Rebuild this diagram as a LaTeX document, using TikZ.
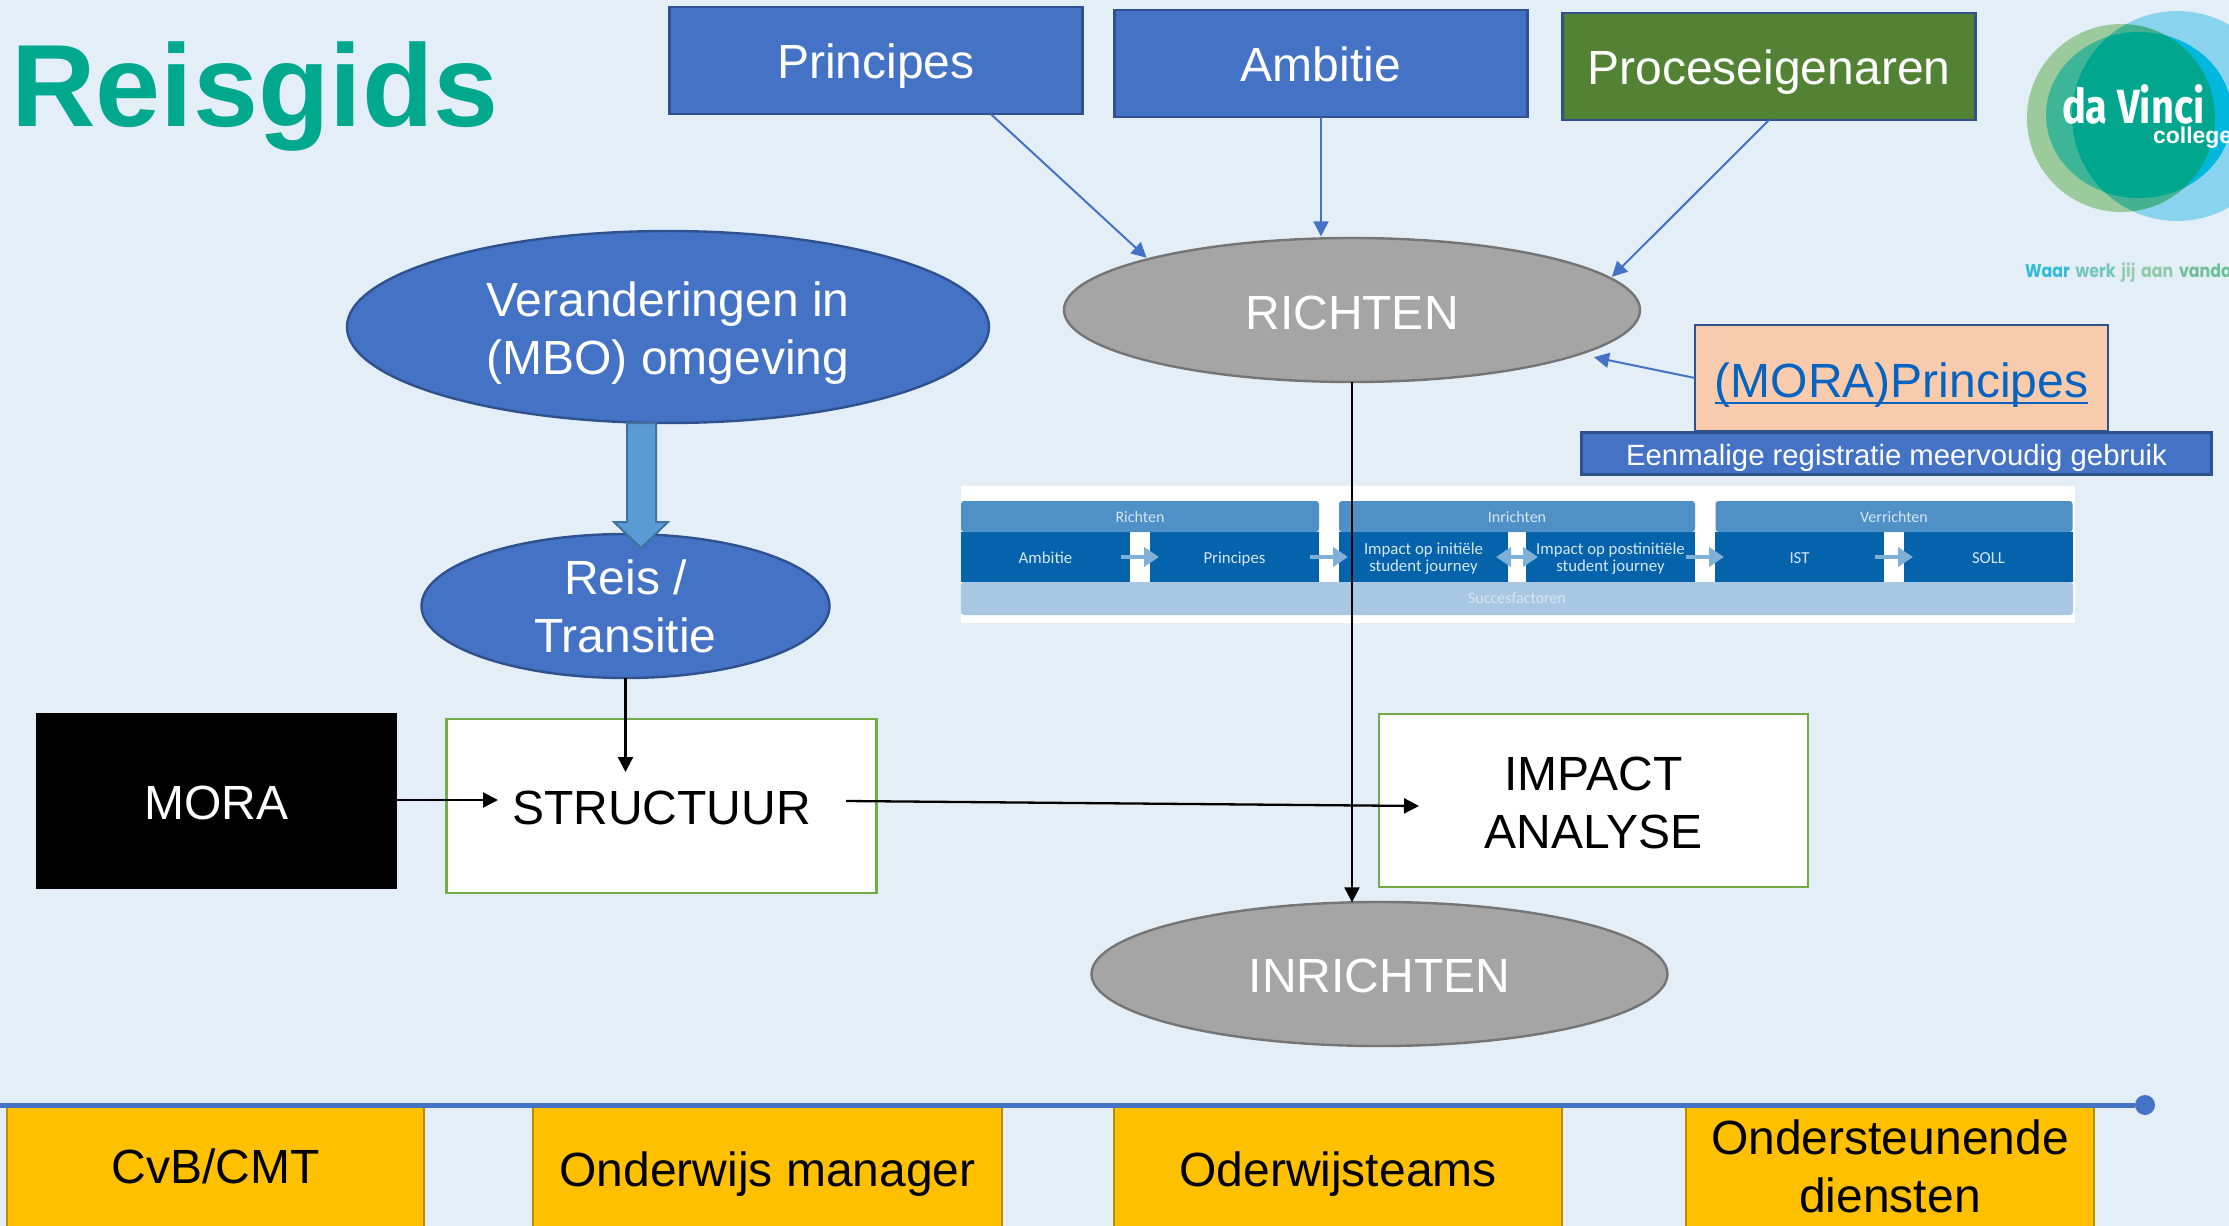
\documentclass[tikz,border=0pt]{standalone}
\usepackage{fontspec}
\setmainfont{Liberation Sans}
\newfontfamily\stripfont{Carlito}
\newfontfamily\logofont[FakeStretch=0.83]{Fira Sans}
\newfontfamily\slogan[FakeStretch=0.86]{Poppins}
\usetikzlibrary{arrows.meta}
\usetikzlibrary{calc}
\usetikzlibrary{positioning}
\usetikzlibrary{shapes.geometric}

\definecolor{achtergrond}{HTML}{E4EEF7}
\definecolor{blauw}{HTML}{4472C4}
\definecolor{blauwrand}{HTML}{2F528F}
\definecolor{grijs}{HTML}{A5A5A5}
\definecolor{grijsrand}{HTML}{757575}
\definecolor{geel}{HTML}{FFC000}
\definecolor{geelrand}{HTML}{BC8C00}
\definecolor{groen}{HTML}{548235}
\definecolor{kaderrand}{HTML}{70AD47}
\definecolor{titel}{HTML}{00A88E}
\definecolor{perzik}{HTML}{F8CBAD}
\definecolor{linkblauw}{HTML}{0563C1}
\definecolor{stripdonker}{HTML}{0563AC}
\definecolor{stripmidden}{HTML}{4F90C6}
\definecolor{striplicht}{HTML}{A7C7E3}
\definecolor{striptekst}{HTML}{D6E6F3}
\definecolor{strippijl}{HTML}{7FB0D8}

\newcommand{\onderstreept}[1]{\vtop{\hbox{\raisebox{0pt}[\height][0pt]{#1}}\kern2.3pt\hrule height 1.4pt}}

\begin{document}
\begin{tikzpicture}[x=0.5pt, y=-0.5pt, >={Triangle[length=7.5pt, width=7.5pt]},
        every node/.style={inner sep=0pt, outer sep=0pt, align=center},
        tekst/.style={font=\fontsize{24}{29}\selectfont},
        regel/.style={text height=18.2pt, text depth=0pt},
        blok/.style={tekst, regel, draw=blauwrand, line width=1.2pt, fill=blauw, text=white, minimum width=206.5pt, minimum height=53.5pt},
        ovaal/.style={tekst, ellipse, draw=blauwrand, line width=1.2pt, fill=blauw, text=white},
        fase/.style={tekst, regel, ellipse, draw=grijsrand, line width=1.2pt, fill=grijs, text=white, minimum width=288pt, minimum height=72pt},
        kader/.style={tekst, draw=kaderrand, line width=1.1pt, fill=white, text=black},
        rol/.style={tekst, draw=geelrand, line width=1.1pt, fill=geel, text=black, minimum height=62pt},
        cel/.style={font=\stripfont\fontsize{8.4}{8.7}\selectfont, fill=stripdonker, text=striptekst, minimum width=84.5pt, minimum height=25pt},
        celregel/.style={cel, text height=6.8pt, text depth=0pt},
        kop/.style={font=\stripfont\fontsize{8}{9}\selectfont, fill=stripmidden, text=striptekst, rounded corners=1.5pt, minimum height=15.5pt},
        stap/.style={draw=strippijl, line width=2pt, -{Triangle[length=7.5pt, width=9.5pt]}, shorten <=-4.5pt, shorten >=-4.5pt},
        bluearrow/.style={->, draw=blauw, line width=1pt, shorten >=1pt},
        blackarrow/.style={->, draw=black, line width=1.15pt}]
        \useasboundingbox (0,0) rectangle (2229,1226);
        \fill[achtergrond] (0,0) rectangle (2229,1226);

        \node[anchor=base west, text=titel, font=\bfseries\fontsize{58.5}{60}\selectfont] (titel) at (11,126) {Reisgids};

        \node[blok] (principes) at (876,60.5) {Principes};
        \node[blok, right=16pt of principes, yshift=-1.5pt] (ambitie) {Ambitie};
        \node[blok, fill=groen, right=17.5pt of ambitie, yshift=-1.5pt] (proces) {Proceseigenaren};

        \node[fase, text height=19.5pt, below=60.5pt of ambitie, xshift=15.5pt] (richten) {RICHTEN};
        \node[fase, below=260pt of richten, xshift=13.75pt] (inrichten) {INRICHTEN};
        \node[ovaal, minimum width=321pt, minimum height=96pt, left=37.5pt of richten, yshift=-8.5pt] (veranderingen) {\rule{0pt}{23.5pt}Veranderingen in\\(MBO) omgeving};
        \node[ovaal, minimum width=204pt, minimum height=72pt, below=55.5pt of veranderingen, xshift=-21.25pt] (reis) {Reis /\\Transitie};

        \node[kader, regel, minimum width=215pt, minimum height=87pt, below=20.5pt of reis, xshift=18pt] (structuur) {STRUCTUUR};
        \node[tekst, regel, fill=black, text=white, minimum width=180.5pt, minimum height=88pt, left=24.75pt of structuur, yshift=2.5pt] (mora) {MORA};
        \node[kader, minimum width=214.5pt, minimum height=86.5pt, right=251.25pt of structuur, yshift=2.75pt] (impact) {\rule{0pt}{19pt}IMPACT\\ANALYSE};

        \node[tekst, text height=19pt, text depth=0pt, draw=blauwrand, line width=1.3pt, fill=perzik, text=linkblauw, minimum width=206.5pt, minimum height=53pt, right=27.5pt of richten, yshift=-34pt] (moraprincipes) {\onderstreept{(MORA)Principes}};
        \node[draw=blauwrand, line width=1.3pt, fill=blauw, text=white, font=\fontsize{14.65}{18}\selectfont, text height=12pt, text depth=0pt, minimum width=315pt, minimum height=21pt, below=0.75pt of moraprincipes, xshift=-2.5pt] (eenmalig) {Eenmalige registratie meervoudig gebruik};

        % overzicht fasen
        \node[fill=white, minimum width=557pt, minimum height=68.5pt] (strip) at (1518,554.5) {};
        \node[celregel] (s-ambitie) at (1045.5,557) {Ambitie};
        \node[celregel, right=10pt of s-ambitie] (s-principes) {Principes};
        \node[cel, right=10pt of s-principes] (s-initieel) {\rule{0pt}{7.5pt}Impact op initiële\\student journey};
        \node[cel, right=9pt of s-initieel] (s-postinitieel) {\rule{0pt}{7.5pt}Impact op postinitiële\\student journey};
        \node[celregel, right=10pt of s-postinitieel] (s-ist) {IST};
        \node[celregel, right=10pt of s-ist] (s-soll) {SOLL};
        \node[kop, anchor=south, minimum width=179pt] (s-richten) at ($(s-ambitie.north)!.5!(s-principes.north)$) {Richten};
        \node[kop, anchor=south, minimum width=178pt] (s-inrichten) at ($(s-initieel.north)!.5!(s-postinitieel.north)$) {Inrichten};
        \node[kop, anchor=south, minimum width=178.5pt] (s-verrichten) at ($(s-ist.north)!.5!(s-soll.north)$) {Verrichten};
        \node[kop, fill=striplicht, anchor=north, minimum width=556pt, minimum height=16.5pt] (s-succes) at ($(s-ambitie.south west)!.5!(s-soll.south east)$) {Succesfactoren};

        \draw[stap] (s-ambitie.east) -- (s-principes.west);
        \draw[stap] (s-principes.east) -- (s-initieel.west);
        \draw[stap, {Triangle[length=7.5pt, width=9.5pt]}-{Triangle[length=7.5pt, width=9.5pt]}, shorten <=-6pt, shorten >=-6pt] (s-initieel.east) -- (s-postinitieel.west);
        \draw[stap] (s-postinitieel.east) -- (s-ist.west);
        \draw[stap] (s-ist.east) -- (s-soll.west);

        % logo
        \begin{scope}
            \clip (0,0) rectangle (2229,1226);
            \fill[fill={rgb,255:red,138;green,211;blue,238}] (2177,116) circle [radius=52.5pt];
            \fill[fill={rgb,255:red,155;green,203;blue,156}] (2121,118) circle [radius=47pt];
            \begin{scope}
                \clip (2177,116) circle [radius=52.5pt];
                \fill[fill={rgb,255:red,68;green,177;blue,145}] (2121,118) circle [radius=47pt];
                \fill[fill={rgb,255:red,0;green,184;blue,222}] (2139,115) ellipse [x radius=46.5pt, y radius=41.5pt];
            \end{scope}
            \begin{scope}
                \clip (2139,115) ellipse [x radius=46.5pt, y radius=41.5pt];
                \fill[fill={rgb,255:red,61;green,182;blue,151}] (2121,118) circle [radius=47pt];
                \clip (2177,116) circle [radius=52.5pt];
                \fill[fill={rgb,255:red,0;green,166;blue,141}] (2121,118) circle [radius=47pt];
            \end{scope}
            \node[anchor=base west, text=white, font=\logofont\bfseries\fontsize{24}{24}\selectfont] (logo-naam) at (2062,123) {da Vinci};
            \node[anchor=base west, text=white, font=\bfseries\fontsize{11.5}{11}\selectfont] (logo-college) at (2153,143) {college};
            \node[anchor=base west, font=\slogan\bfseries\fontsize{9.2}{10}\selectfont] (logo-slogan) at (2025,277) {\textcolor[HTML]{2FBBDA}{Waar}\hspace{1.2pt} \textcolor[HTML]{72C6BC}{werk}\hspace{1.2pt} \textcolor[HTML]{96CDB2}{jij}\hspace{1.2pt} \textcolor[HTML]{8CCBAA}{aan}\hspace{1.2pt} \textcolor[HTML]{6FC09A}{vanda}};
        \end{scope}

        % rollen
        \node[rol, text height=14.4pt, text depth=0pt, minimum width=208.5pt] (cvb) at (215.5,1169) {CvB/CMT};
        \node[rol, text height=17.2pt, text depth=0pt, minimum width=234.5pt, right=54.5pt of cvb] (manager) {Onderwijs manager};
        \node[rol, text height=17.2pt, text depth=0pt, minimum width=224pt, right=56pt of manager] (teams) {Oderwijsteams};
        \node[rol, minimum width=204pt, right=62pt of teams] (diensten) {Ondersteunende\\diensten\rule[-3pt]{0pt}{0pt}};

        \coordinate (lijn-start) at (0,1105);
        \node[circle, fill=blauw, minimum size=10pt] (lijn-eind) at (2145,1105) {};
        \draw[blauw, line width=2.5pt] (lijn-start) -- (lijn-eind);

        \fill[fill={rgb,255:red,91;green,155;blue,213}, draw={rgb,255:red,65;green,113;blue,156}, line width=1pt] (627,423) -- (656,423) -- (656,522) -- (668,522) -- (641,548) -- (614,522) -- (627,522) -- cycle;

        \coordinate (structuur-top) at (625.5,772);
        \coordinate (structuur-in) at (498,800);
        \coordinate (structuur-uit) at (846,801);
        \coordinate (impact-in) at (1419,806);

        \draw[bluearrow] (principes.-25) -- (richten.166);
        \draw[bluearrow] (ambitie.south) -- (ambitie.south |- richten.113);
        \draw[bluearrow] (proces.south) -- (richten.7.5);
        \draw[bluearrow, shorten >=7.5pt] (moraprincipes.west) -- (richten.-11);

        \draw[blackarrow] (richten.south) -- (richten.south |- inrichten.110);
        \draw[blackarrow] (reis.south) -- (structuur-top);
        \draw[blackarrow] (mora.east |- structuur-in) -- (structuur-in);
        \draw[blackarrow] (structuur-uit) -- (impact-in);
    \end{tikzpicture}
\end{document}
